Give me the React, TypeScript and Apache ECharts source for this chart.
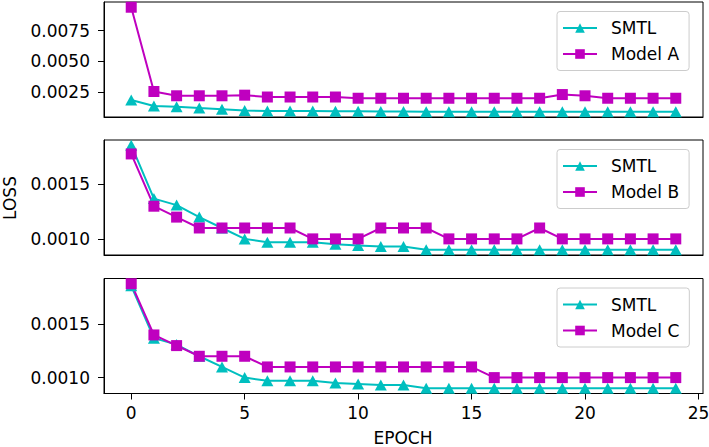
import React, { useEffect, useRef } from "react";
import * as echarts from "echarts";

const epochs = [0, 1, 2, 3, 4, 5, 6, 7, 8, 9, 10, 11, 12, 13, 14, 15, 16, 17, 18, 19, 20, 21, 22, 23, 24];

const smtl = [
  0.00186, 0.00137, 0.00131, 0.0012, 0.0011, 0.001, 0.00097, 0.00097, 0.00097, 0.00095,
  0.00094, 0.00093, 0.00093, 0.0009, 0.0009, 0.0009, 0.0009, 0.0009, 0.0009, 0.0009,
  0.0009, 0.0009, 0.0009, 0.0009, 0.0009,
];

const modelA = [
  0.0094, 0.00255, 0.0022, 0.0022, 0.0022, 0.00225, 0.0021, 0.0021, 0.0021, 0.0021,
  0.002, 0.002, 0.002, 0.002, 0.002, 0.002, 0.002, 0.002, 0.002, 0.0023,
  0.0022, 0.002, 0.002, 0.002, 0.002,
];

const modelB = [
  0.00178, 0.0013, 0.0012, 0.0011, 0.0011, 0.0011, 0.0011, 0.0011, 0.001, 0.001,
  0.001, 0.0011, 0.0011, 0.0011, 0.001, 0.001, 0.001, 0.001, 0.0011, 0.001,
  0.001, 0.001, 0.001, 0.001, 0.001,
];

const modelC = [
  0.00188, 0.0014, 0.0013, 0.0012, 0.0012, 0.0012, 0.0011, 0.0011, 0.0011, 0.0011,
  0.0011, 0.0011, 0.0011, 0.0011, 0.0011, 0.0011, 0.001, 0.001, 0.001, 0.001,
  0.001, 0.001, 0.001, 0.001, 0.001,
];

const modelNames = ["Model A", "Model B", "Model C"];
const modelSeries = [modelA, modelB, modelC];

const yTicksTop = [0.0025, 0.005, 0.0075];
const yTicksLower = [0.001, 0.0015];
const xTicks = [0, 5, 10, 15, 20, 25];

const CYAN = "#00BFBF";
const MAGENTA = "#BF00BF";
const FONT = "DejaVu Sans";

function pairs(vals: number[]) {
  return epochs.map((e, i) => [e, vals[i]]);
}

function autoRange(arrs: number[][]) {
  let lo = Infinity;
  let hi = -Infinity;
  arrs.forEach((a) => a.forEach((v) => { lo = Math.min(lo, v); hi = Math.max(hi, v); }));
  const m = (hi - lo) * 0.05;
  return [lo - m, hi + m];
}

export default function App() {
  const ref = useRef<HTMLDivElement>(null);
  useEffect(() => {
    if (!ref.current) return;
    const chart = echarts.init(ref.current, undefined, { renderer: "svg" });
    const gridTops = [2, 140, 278.5];
    const gridH = 115;
    const span = epochs[epochs.length - 1] - epochs[0];
    const xMin = epochs[0] - span * 0.05;
    const xMax = epochs[epochs.length - 1] + span * 0.05;

    const grid = gridTops.map((t) => ({
      left: 104,
      width: 599,
      top: t,
      height: gridH,
      show: true,
      borderColor: "#000",
      borderWidth: 1,
      backgroundColor: "#fff",
      containLabel: false,
      outerBoundsMode: "none",
    }));

    const xAxis = gridTops.map((_, i) => ({
      type: "value",
      gridIndex: i,
      min: xMin,
      max: xMax,
      axisLine: { show: true, onZero: false, lineStyle: { color: "#000", width: 1 } },
      axisTick: {
        show: i === 2,
        length: 6,
        lineStyle: { color: "#000", width: 1 },
        customValues: xTicks,
      },
      axisLabel: {
        show: i === 2,
        customValues: xTicks,
        margin: 11,
        fontSize: 17,
        fontFamily: FONT,
        color: "#000",
        formatter: (v: number) => String(Math.round(v)),
      },
      splitLine: { show: false },
    }));

    const yAxis = gridTops.map((_, i) => {
      const r = autoRange([smtl, modelSeries[i]]);
      const ticks = i === 0 ? yTicksTop : yTicksLower;
      return {
        type: "value",
        gridIndex: i,
        min: r[0],
        max: r[1],
        axisLine: { show: true, onZero: false, lineStyle: { color: "#000", width: 1 } },
        axisTick: { show: true, length: 6, lineStyle: { color: "#000", width: 1 }, customValues: ticks },
        axisLabel: {
          customValues: ticks,
          margin: 14,
          fontSize: 17,
          fontFamily: FONT,
          color: "#000",
          formatter: (v: number) => v.toFixed(4),
        },
        splitLine: { show: false },
      };
    });

    const series: any[] = [];
    gridTops.forEach((_, i) => {
      series.push({
        type: "line",
        name: "SMTL",
        xAxisIndex: i,
        yAxisIndex: i,
        data: pairs(smtl),
        symbol: "triangle",
        symbolSize: [12, 11],
        showAllSymbol: true,
        itemStyle: { color: CYAN },
        lineStyle: { color: CYAN, width: 2 },
      });
      series.push({
        type: "line",
        name: modelNames[i],
        xAxisIndex: i,
        yAxisIndex: i,
        data: pairs(modelSeries[i]),
        symbol: "rect",
        symbolSize: 11,
        showAllSymbol: true,
        itemStyle: { color: MAGENTA },
        lineStyle: { color: MAGENTA, width: 2 },
      });
    });

    const legend = gridTops.map((t, i) => ({
      data: ["SMTL", modelNames[i]],
      orient: "vertical",
      left: 557,
      top: t + 9.5,
      itemWidth: 34,
      itemHeight: 12,
      itemGap: 9,
      selectedMode: false,
      padding: [8, 10, 8, 5],
      backgroundColor: "rgba(255,255,255,0.8)",
      borderColor: "#cccccc",
      borderWidth: 1,
      borderRadius: 3,
      textStyle: {
        fontSize: 17,
        fontFamily: FONT,
        color: "#000",
        padding: [0, 0, 0, 9],
      },
    }));

    chart.setOption({
      animation: false,
      backgroundColor: "#fff",
      grid,
      xAxis,
      yAxis,
      series,
      legend,
      graphic: [
        {
          type: "text",
          x: 10,
          y: 198,
          rotation: Math.PI / 2,
          style: {
            text: "LOSS",
            fontSize: 17,
            fontFamily: FONT,
            fill: "#000",
            align: "center",
            verticalAlign: "middle",
          },
        },
        {
          type: "text",
          x: 403,
          y: 438,
          style: {
            text: "EPOCH",
            fontSize: 17,
            fontFamily: FONT,
            fill: "#000",
            align: "center",
            verticalAlign: "middle",
          },
        },
      ],
    });
    return () => chart.dispose();
  }, []);
  return (
    <div
      ref={ref}
      style={{ position: "fixed", left: 0, top: 0, width: "709px", height: "447px", background: "#fff" }}
    />
  );
}
